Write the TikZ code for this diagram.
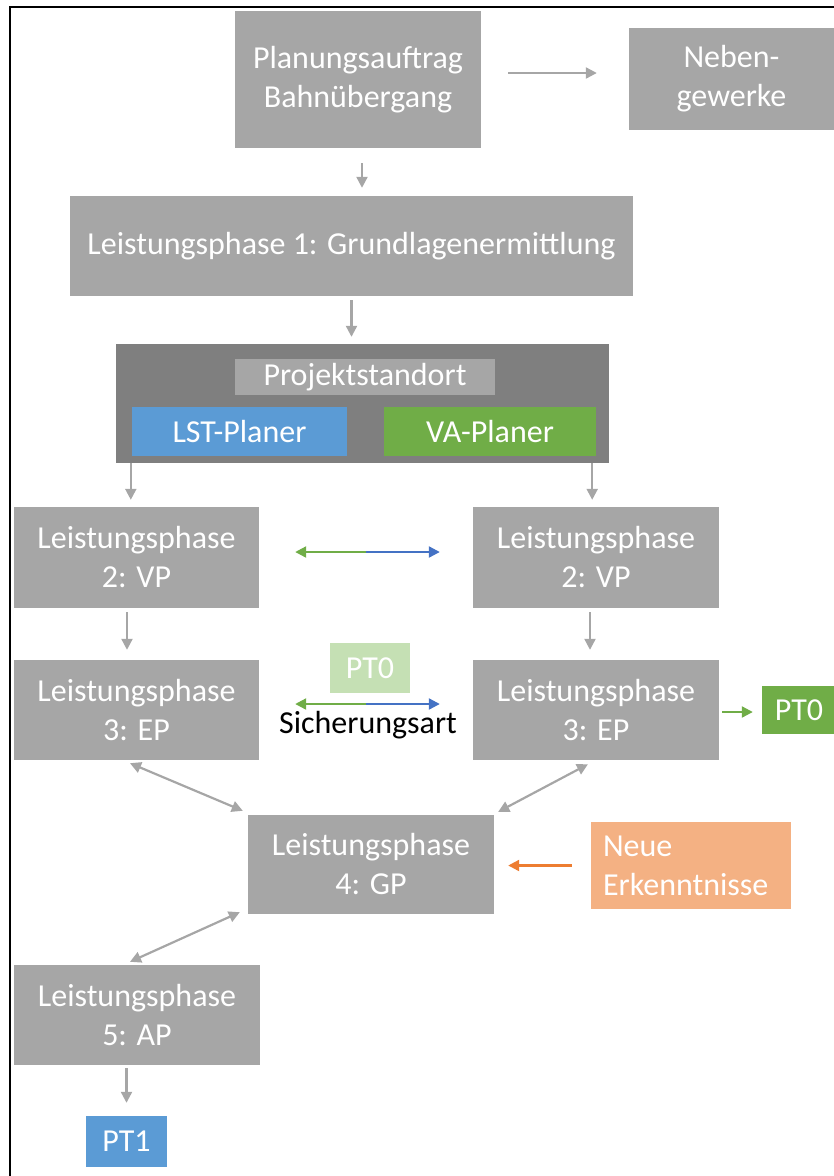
\documentclass[tikz,border=0pt]{standalone}
\usepackage{fontspec}
\setmainfont{Carlito}
\usetikzlibrary{arrows.meta,calc}
\definecolor{boxgray}{HTML}{A6A6A6}
\definecolor{contgray}{HTML}{7F7F7F}
\definecolor{lstblue}{HTML}{5B9BD5}
\definecolor{vagreen}{HTML}{70AD47}
\definecolor{lightgreen}{HTML}{C5E0B4}
\definecolor{arrblue}{HTML}{4472C4}
\definecolor{arrorange}{HTML}{ED7D31}
\definecolor{peach}{HTML}{F4B183}
\begin{document}
\begin{tikzpicture}[x=1pt,y=-1pt,
  box/.style={fill=boxgray,text=white,inner sep=0pt,align=center,font=\fontsize{32}{39}\selectfont},
  tip/.style={-{Triangle[length=11pt,width=11pt]}},
  arr/.style={draw=boxgray,line width=2.2pt,tip},
  darr/.style={draw=boxgray,line width=2.2pt,{Triangle[length=11pt,width=11pt]}-{Triangle[length=11pt,width=11pt]}},
  garr/.style={draw=vagreen,line width=2.2pt,tip},
  barr/.style={draw=arrblue,line width=2.2pt,tip},
  oarr/.style={draw=arrorange,line width=2.2pt,tip}]
\useasboundingbox (0,0) rectangle (834,1176);
\draw[line width=2pt] (10,1176) -- (10,7) -- (834,7);

\node[box,minimum width=246pt,minimum height=137pt] (P) at (358,79.5) {Planungsauftrag\\Bahnübergang};
\node[box,minimum width=205pt,minimum height=102pt] (neben) at (731.5,79) {Neben-\\gewerke};
\node[box,minimum width=563pt,minimum height=100pt] (lp1) at (351.5,246) {Leistungsphase 1: Grundlagenermittlung};
\node[fill=contgray,minimum width=493pt,minimum height=119pt,inner sep=0pt] (cont) at (362.5,403.5) {};
\node[box,minimum width=260pt,minimum height=36pt] (proj) at (365,377) {Projektstandort};
\node[box,fill=lstblue,minimum width=215pt,minimum height=49pt] (lst) at (239.5,431.5) {LST-Planer};
\node[box,fill=vagreen,minimum width=212pt,minimum height=49pt] (va) at (490,431.5) {VA-Planer};
\node[box,minimum width=245pt,minimum height=101pt] (lp2l) at (136.5,557.5) {Leistungsphase\\2: VP};
\node[box,minimum width=246pt,minimum height=101pt] (lp2r) at (596,557.5) {Leistungsphase\\2: VP};
\node[box,minimum width=245pt,minimum height=100pt] (lp3l) at (136.5,710) {Leistungsphase\\3: EP};
\node[box,minimum width=246pt,minimum height=100pt] (lp3r) at (596,710) {Leistungsphase\\3: EP};
\node[box,fill=lightgreen,minimum width=80pt,minimum height=50pt] (pt0a) at (370,668) {PT0};
\node[inner sep=0pt,anchor=base,font=\fontsize{32}{39}\selectfont] (sich) at (368,733) {Sicherungsart};
\node[box,fill=vagreen,minimum width=74pt,minimum height=48pt] (pt0r) at (799,710) {PT0};
\node[box,minimum width=246pt,minimum height=99pt] (lp4) at (371,864.5) {Leistungsphase\\4: GP};
\node[box,fill=peach,align=left,inner xsep=12pt,text width=176pt,minimum height=87pt] (neue) at (691,865.5) {Neue\\Erkenntnisse};
\node[box,minimum width=246pt,minimum height=100pt] (lp5) at (137,1015) {Leistungsphase\\5: AP};
\node[box,fill=lstblue,minimum width=81pt,minimum height=51pt] (pt1) at (126.5,1141.5) {PT1};

% arrows
\draw[arr,shorten <=27pt,shorten >=32pt] ([yshift=6.5pt]P.east) -- ([yshift=6.5pt]P.east -| neben.west);
\draw[arr,shorten <=15pt,shorten >=8pt] ([xshift=4pt]P.south) -- ([xshift=4pt]P.south |- lp1.north);
\draw[arr,shorten <=4pt,shorten >=7pt] (lp1.south) -- (lp1.south |- cont.north);
\draw[arr,shorten >=7pt] ([xshift=15pt]cont.south west) -- ([xshift=15pt]cont.south west |- lp2l.north);
\draw[arr,shorten >=7pt] ([xshift=-17pt]cont.south east) -- ([xshift=-17pt]cont.south east |- lp2r.north);
\draw[arr,shorten <=4pt,shorten >=10pt] ([xshift=-9.5pt]lp2l.south) -- ([xshift=-9.5pt]lp2l.south |- lp3l.north);
\draw[arr,shorten <=4pt,shorten >=10pt] ([xshift=-6pt]lp2r.south) -- ([xshift=-6pt]lp2r.south |- lp3r.north);

\coordinate (m2) at ($(lp2l.east)!0.5!(lp2r.west)+(0,-5.5)$);
\draw[garr,shorten >=36pt] (m2) -- (m2 -| lp2l.east);
\draw[barr,shorten >=33pt] (m2) -- (m2 -| lp2r.west);
\coordinate (m3) at ($(lp3l.east)!0.5!(lp3r.west)+(0,-6)$);
\draw[garr,shorten >=36pt] (m3) -- (m3 -| lp3l.east);
\draw[barr,shorten >=33pt] (m3) -- (m3 -| lp3r.west);

\draw[garr,shorten <=3pt,shorten >=9pt] ([yshift=-2pt]lp3r.east) -- ([yshift=-2pt]pt0r.west);

\draw[darr] ([xshift=-6.5pt,yshift=-3pt]lp3l.south) -- ([xshift=-5pt,yshift=4pt]lp4.north west);
\draw[darr] ([xshift=-8pt,yshift=-4pt]lp3r.south) -- ([xshift=4pt,yshift=3pt]lp4.north east);
\draw[darr] ([xshift=-8pt,yshift=2pt]lp4.south west) -- ([xshift=-7pt,yshift=3pt]lp5.north);

\draw[oarr,shorten <=19pt,shorten >=14pt] (neue.west) -- (neue.west -| lp4.east);
\draw[arr,shorten <=3pt,shorten >=13pt] (pt1.north |- lp5.south) -- (pt1.north);
\end{tikzpicture}
\end{document}
